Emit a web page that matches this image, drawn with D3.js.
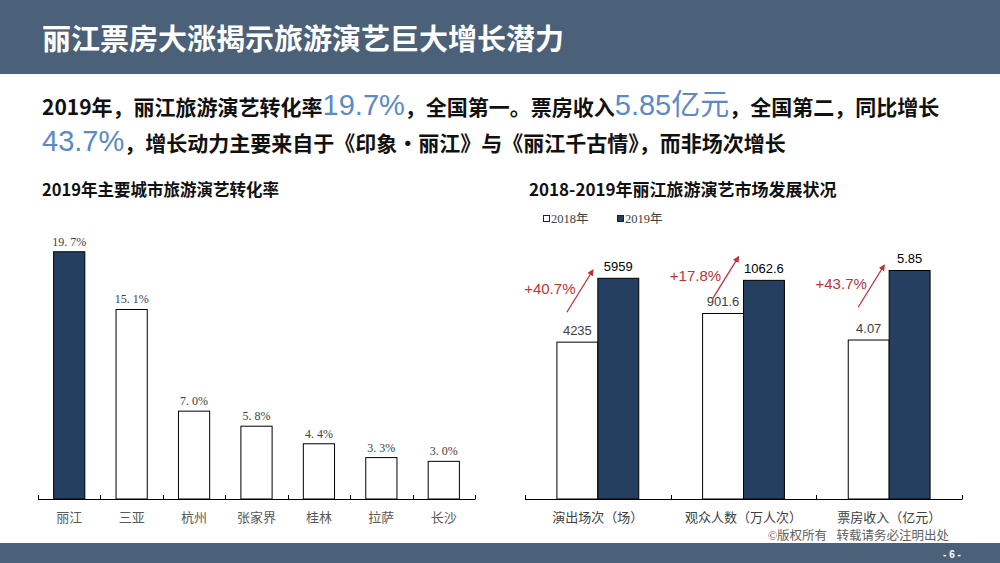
<!DOCTYPE html>
<html>
<head>
<meta charset="utf-8">
<script src="https://cdn.jsdelivr.net/npm/d3@7"></script>
<style>
  html, body { margin: 0; padding: 0; background: #fff; }
  svg { display: block; }
</style>
</head>
<body>
<svg id="chart" width="1000" height="563"></svg>
<script>
// ---------------- data ----------------
const pageTitle = "丽江票房大涨揭示旅游演艺巨大增长潜力";
const headline1 = [
  ["2019年，丽江旅游演艺转化率", false],
  ["19.7%", true],
  ["，全国第一。票房收入", false],
  ["5.85亿元", true],
  ["，全国第二，同比增长", false]
];
const headline2 = [
  ["43.7%", true],
  ["，增长动力主要来自于《印象·丽江》与《丽江千古情》，而非场次增长", false]
];
const leftTitle = "2019年主要城市旅游演艺转化率";
const rightTitle = "2018-2019年丽江旅游演艺市场发展状况";

const cities = ["丽江", "三亚", "杭州", "张家界", "桂林", "拉萨", "长沙"];
const rates = [19.7, 15.1, 7.0, 5.8, 4.4, 3.3, 3.0];

const groups = ["演出场次（场）", "观众人数（万人次）", "票房收入（亿元）"];
const years = ["2018年", "2019年"];
const values2018 = [4235, 901.6, 4.07];
const values2019 = [5959, 1062.6, 5.85];
const labels2018 = ["4235", "901.6", "4.07"];
const labels2019 = ["5959", "1062.6", "5.85"];
const growth = ["+40.7%", "+17.8%", "+43.7%"];
const groupAxisMax = [6750, 1215, 6.4];

const copyright = "©版权所有   转载请务必注明出处";
const pageNo = "- 6 -";

// ---------------- styles ----------------
const BAND = "#4b6079";
const DARK = "#253f60";
const BLUE = "#5b8ac6";
const RED = "#c0313a";
const CJK = "'Noto Sans CJK SC', 'Noto Sans', sans-serif";
const LAT = "'Liberation Sans', Arial, 'Noto Sans CJK SC', sans-serif";
const SERIF = "'Liberation Serif', 'DejaVu Serif', 'Noto Sans CJK SC', serif";

const svg = d3.select("#chart");

// header band
svg.append("rect").attr("x", 0).attr("y", 0).attr("width", 1000).attr("height", 74).attr("fill", BAND);
svg.append("text").attr("x", 42).attr("y", 50)
  .attr("font-family", CJK).attr("font-weight", 700).attr("font-size", 29)
  .attr("fill", "#fff").text(pageTitle);

// headline
function headline(parts, y) {
  const t = svg.append("text").attr("x", 42).attr("y", y);
  parts.forEach(([s, hi]) => {
    t.append("tspan").text(s)
      .attr("font-family", hi ? LAT : CJK)
      .attr("font-weight", hi ? 400 : 700)
      .attr("font-size", hi ? 29 : 21)
      .attr("fill", hi ? BLUE : "#111");
  });
}
headline(headline1, 115);
headline(headline2, 151);

// footer band
svg.append("rect").attr("x", 0).attr("y", 543).attr("width", 1000).attr("height", 20).attr("fill", BAND);
svg.append("text").attr("x", 952).attr("y", 558).attr("text-anchor", "middle")
  .attr("font-family", LAT).attr("font-weight", 700).attr("font-size", 10)
  .attr("fill", "#fff").text(pageNo);
svg.append("text").attr("x", 949).attr("y", 540).attr("text-anchor", "end")
  .attr("font-family", SERIF).attr("font-size", 12.5).attr("fill", "#606060")
  .attr("xml:space", "preserve").text(copyright);

// ---------------- left chart ----------------
svg.append("text").attr("x", 42).attr("y", 196)
  .attr("font-family", CJK).attr("font-weight", 700).attr("font-size", 16.5)
  .attr("fill", "#111").text(leftTitle);

const baseY = 499;
const xL = d3.scaleBand().domain(cities).range([38, 475]).paddingInner(0.5).paddingOuter(0.25);
const yL = d3.scaleLinear().domain([0, 20]).range([baseY, baseY - 251]);

const gL = svg.append("g");
gL.selectAll("rect.bar").data(cities).join("rect")
  .attr("class", "bar")
  .attr("x", d => xL(d))
  .attr("y", (d, i) => yL(rates[i]))
  .attr("width", xL.bandwidth())
  .attr("height", (d, i) => baseY - yL(rates[i]))
  .attr("fill", (d, i) => i === 0 ? DARK : "#fff")
  .attr("stroke", "#000").attr("stroke-width", 1);

gL.selectAll("text.val").data(cities).join("text")
  .attr("class", "val")
  .attr("x", d => xL(d) + xL.bandwidth() / 2)
  .attr("y", (d, i) => yL(rates[i]) - 6)
  .attr("text-anchor", "middle")
  .attr("font-family", SERIF).attr("font-size", 12).attr("fill", "#404040")
  .attr("xml:space", "preserve")
  .text((d, i) => rates[i].toFixed(1).replace(".", ". ") + "%");

// axis line with boundary ticks
const boundsL = cities.map(c => xL(c) - xL.step() * xL.paddingInner() / 2).concat([xL.range()[1]]);
boundsL[0] = xL.range()[0];
gL.append("line").attr("x1", xL.range()[0]).attr("x2", xL.range()[1])
  .attr("y1", baseY + 0.5).attr("y2", baseY + 0.5).attr("stroke", "#000");
gL.selectAll("line.tick").data(boundsL).join("line")
  .attr("class", "tick")
  .attr("x1", d => Math.round(d) + 0.5).attr("x2", d => Math.round(d) + 0.5)
  .attr("y1", baseY - 4).attr("y2", baseY + 0.5).attr("stroke", "#000");
gL.selectAll("text.cat").data(cities).join("text")
  .attr("class", "cat")
  .attr("x", d => xL(d) + xL.bandwidth() / 2).attr("y", 522)
  .attr("text-anchor", "middle")
  .attr("font-family", CJK).attr("font-size", 13).attr("fill", "#595959")
  .text(d => d);

// ---------------- right chart ----------------
svg.append("text").attr("x", 529).attr("y", 196)
  .attr("font-family", CJK).attr("font-weight", 700).attr("font-size", 17)
  .attr("fill", "#111").text(rightTitle);

// legend
const legendX = [543, 617];
years.forEach((yr, i) => {
  svg.append("rect").attr("x", legendX[i] + 0.5).attr("y", 215.5).attr("width", 6).attr("height", 6)
    .attr("fill", i === 0 ? "#fff" : DARK).attr("stroke", "#222").attr("stroke-width", 1);
  svg.append("text").attr("x", legendX[i] + 8).attr("y", 223)
    .attr("font-family", SERIF).attr("font-size", 12.5).attr("fill", "#404040").text(yr);
});

const xR = d3.scaleBand().domain(groups).range([525, 962]).padding(0);
const xS = d3.scaleBand().domain(years).range([0, xR.bandwidth()]).paddingInner(0).paddingOuter(0.78);
const yR = groupAxisMax.map(m => d3.scaleLinear().domain([0, m]).range([baseY, baseY - 250]));
const series = [values2018, values2019];
const seriesLabels = [labels2018, labels2019];

const gR = svg.append("g");
groups.forEach((g, gi) => {
  years.forEach((yr, si) => {
    const v = series[si][gi];
    const x = xR(g) + xS(yr);
    const y = yR[gi](v);
    gR.append("rect")
      .attr("x", x).attr("y", y)
      .attr("width", xS.bandwidth()).attr("height", baseY - y)
      .attr("fill", si === 0 ? "#fff" : DARK)
      .attr("stroke", "#000").attr("stroke-width", 1);
    gR.append("text")
      .attr("x", x + xS.bandwidth() / 2).attr("y", y - 7)
      .attr("text-anchor", "middle")
      .attr("font-family", LAT).attr("font-size", 13)
      .attr("fill", si === 0 ? "#404040" : "#000")
      .text(seriesLabels[si][gi]);
  });
});

// growth arrows
const defs = svg.append("defs");
defs.append("marker").attr("id", "arrow").attr("viewBox", "0 0 10 10")
  .attr("refX", 8).attr("refY", 5).attr("markerWidth", 5).attr("markerHeight", 5)
  .attr("orient", "auto")
  .append("path").attr("d", "M0,0 L10,5 L0,10 Z").attr("fill", RED);

groups.forEach((g, gi) => {
  const cx = xR(g) + xR.bandwidth() / 2;
  const mid = (yR[gi](values2018[gi]) + yR[gi](values2019[gi])) / 2;
  gR.append("line")
    .attr("x1", cx - 31).attr("y1", mid + 2)
    .attr("x2", cx - 5).attr("y2", mid - 40)
    .attr("stroke", RED).attr("stroke-width", 1.3)
    .attr("marker-end", "url(#arrow)");
  gR.append("text")
    .attr("x", cx - 48).attr("y", mid - 16)
    .attr("text-anchor", "middle")
    .attr("font-family", LAT).attr("font-size", 15).attr("fill", RED)
    .text(growth[gi]);
});

// axis
const boundsR = groups.map(g => xR(g)).concat([xR.range()[1]]);
gR.append("line").attr("x1", xR.range()[0]).attr("x2", xR.range()[1])
  .attr("y1", baseY + 0.5).attr("y2", baseY + 0.5).attr("stroke", "#000");
gR.selectAll("line.tick").data(boundsR).join("line")
  .attr("class", "tick")
  .attr("x1", d => Math.round(d) + 0.5).attr("x2", d => Math.round(d) + 0.5)
  .attr("y1", baseY - 4).attr("y2", baseY + 0.5).attr("stroke", "#000");
gR.selectAll("text.cat").data(groups).join("text")
  .attr("class", "cat")
  .attr("x", d => xR(d) + xR.bandwidth() / 2).attr("y", 522)
  .attr("text-anchor", "middle")
  .attr("font-family", CJK).attr("font-size", 13).attr("fill", "#404040")
  .text(d => d);
</script>
</body>
</html>
